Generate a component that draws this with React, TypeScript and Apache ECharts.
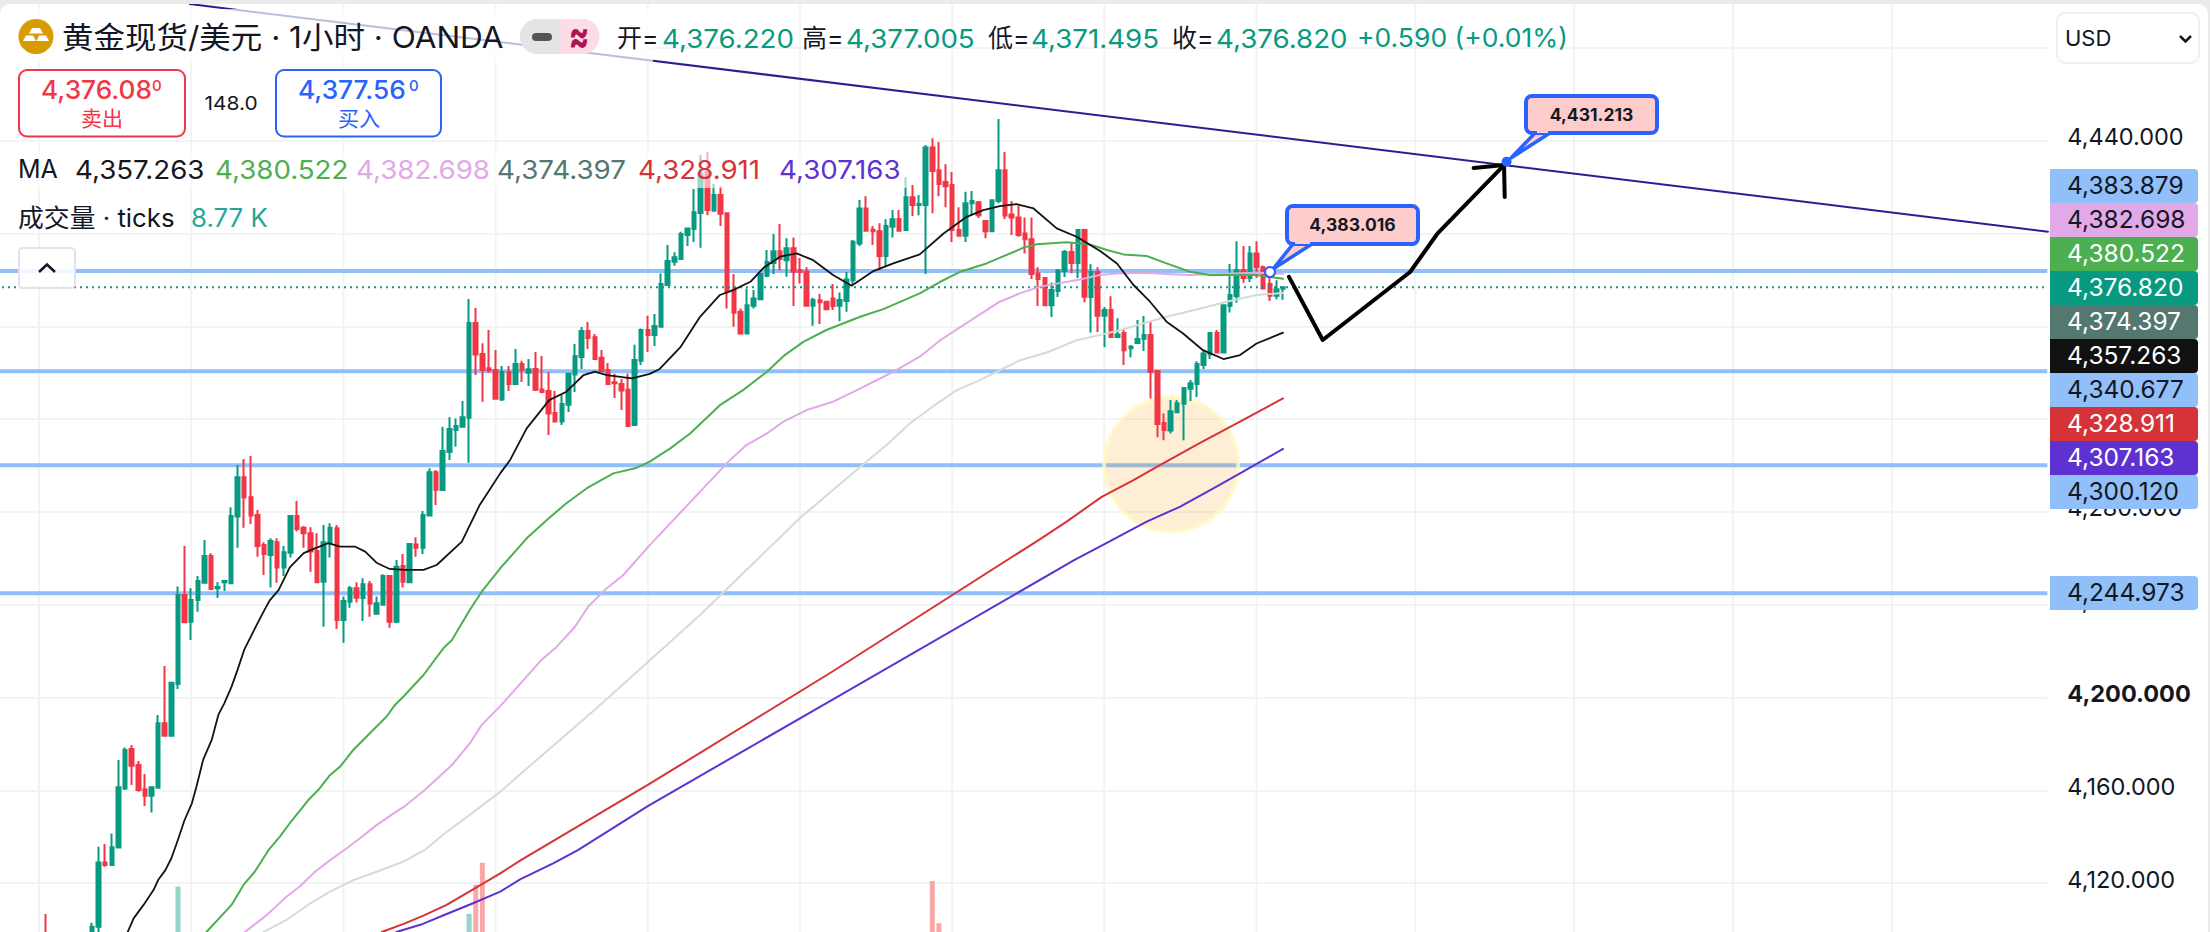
import React, { useEffect, useRef } from "react";
import * as echarts from "echarts";

// ---------- Data (prices) ----------
const axisMin = 4080;
const axisMax = 4520;
const axisStep = 40;
const visibleTickLabels = [4440, 4280, 4240, 4200, 4160, 4120];
const boldTickLabel = 4200;
const barSlots = 310;
const verticalTicks = [6, 29, 52, 75, 98, 121, 144, 167, 190, 214, 238, 262, 286];

// [open, close, low, high]
const earlyBars = [
  [4084, 4086, 4082, 4088], [4086, 4085, 4083, 4088], [4085, 4088, 4084, 4090], [4088, 4086, 4085, 4090],
  [4086, 4089, 4085, 4091], [4089, 4091, 4088, 4093], [4091, 4093, 4090, 4095],
  [4096, 4093, 4091, 4106.7],
  [4093, 4090, 4089, 4095], [4090, 4091, 4088, 4093], [4091, 4089, 4088, 4093], [4089, 4092, 4088, 4094],
  [4092, 4090, 4089, 4094], [4090, 4092, 4089, 4094],
];
const ohlcA = [
  [4092, 4101.2, 4090, 4102.9], [4101.2, 4128.9, 4097, 4135.7], [4128.9, 4127.8, 4127.1, 4136.8], [4127.8, 4135.4, 4127.8, 4141.4],
  [4135.3, 4161.3, 4135.3, 4173.1], [4160.8, 4177.4, 4160.1, 4178.5], [4177.8, 4170.6, 4162.3, 4179.5], [4170.9, 4160.1, 4159.4, 4172.6],
  [4160.4, 4157.7, 4153.2, 4167], [4157.7, 4161.3, 4150.4, 4161.3], [4161.1, 4188.9, 4161.1, 4192.5], [4188.9, 4183.5, 4183.5, 4213.6],
  [4183.5, 4206.4, 4183.5, 4206.8], [4205.8, 4244.2, 4203.7, 4247.8], [4244.2, 4232.4, 4232, 4265.3], [4232.6, 4242, 4224.8, 4247.1],
  [4242, 4250.2, 4237, 4252.4], [4249.5, 4261, 4249.5, 4267.9], [4261, 4246.8, 4246.3, 4262.2], [4247.1, 4247.6, 4243, 4249.8],
  [4249.7, 4250.2, 4245.9, 4250.2], [4249.2, 4278.2, 4249.2, 4282], [4278, 4294.9, 4264.6, 4300.2], [4294.9, 4286.2, 4273.2, 4302.8],
  [4286.3, 4278.4, 4274.8, 4304.1], [4278.7, 4265.3, 4260.7, 4280.8], [4265.7, 4261.9, 4252.8, 4266.9], [4261.4, 4267.5, 4247.4, 4268.6],
  [4266.9, 4256, 4249.5, 4268.6], [4256, 4262.6, 4252.4, 4265.3], [4262.4, 4278.2, 4260.3, 4278.7], [4278.2, 4272.6, 4271.5, 4284.7],
  [4273.2, 4270.8, 4264.6, 4273.9], [4270.8, 4262.9, 4254.2, 4273.4], [4263.2, 4249.7, 4249.2, 4270.8], [4249.9, 4266.9, 4230.5, 4274.4],
  [4266.5, 4273.2, 4260.3, 4275.1], [4272.9, 4233.4, 4229.5, 4274.4], [4233.4, 4241.6, 4223.6, 4243.5], [4241.3, 4247.1, 4238.7, 4248.1],
  [4247.1, 4243, 4240.9, 4249.7], [4242.9, 4248.8, 4233, 4251.4], [4248.8, 4240.5, 4234.8, 4250.2], [4236.1, 4240.6, 4236.1, 4243.5],
  [4240, 4252.4, 4240, 4253.1], [4252.4, 4232.6, 4230.1, 4252.8], [4232.6, 4256.4, 4232, 4259.3], [4256.7, 4249.9, 4247.4, 4261.9],
  [4249.7, 4266.2, 4249.7, 4266.5], [4266, 4264.6, 4260.7, 4269.1], [4264.6, 4278.7, 4261.9, 4280.4], [4278.4, 4297.1, 4278.4, 4298.8],
  [4297.1, 4289.5, 4283, 4298.1],
];
const ohlcB = [
  [4289.4, 4306.3, 4289.2, 4316.7], [4305.8, 4315.7, 4302.4, 4320.8], [4315.3, 4317, 4308.1, 4320.3], [4316.7, 4320.8, 4316.7, 4327.8],
  [4320.6, 4361.4, 4301.2, 4371.8], [4361.4, 4347.8, 4339, 4367.9], [4348.1, 4341.2, 4327.5, 4352.7], [4341.9, 4341, 4340, 4358.4],
  [4341.2, 4328.8, 4328.8, 4349.8], [4328.5, 4340.3, 4327.8, 4342.9], [4340.3, 4335.1, 4332.1, 4342.9], [4335.1, 4343.8, 4335.1, 4350.2],
  [4343.8, 4341.2, 4336, 4345.1], [4340, 4341.5, 4334.3, 4345.9], [4341.6, 4332.6, 4332.1, 4348.9], [4332.8, 4331.7, 4331.1, 4347.2],
  [4332.1, 4322.4, 4313.2, 4340.3], [4322.6, 4319, 4318.8, 4332.1], [4319, 4326.5, 4317.5, 4330.4], [4326.2, 4339.5, 4323.1, 4339.5],
  [4339.2, 4347.2, 4331.7, 4352.4], [4346.8, 4358, 4341.6, 4359.7], [4358, 4355, 4350.2, 4361.9], [4355.3, 4345.9, 4345.9, 4356.7],
  [4346.4, 4340.7, 4340.7, 4349.8], [4341.2, 4335.1, 4335.1, 4344.2], [4335.9, 4335.4, 4329.1, 4339.5], [4335.1, 4332.3, 4323.9, 4337.3],
  [4332.6, 4317, 4316.7, 4339.7], [4317.5, 4345.5, 4317.5, 4352], [4345.1, 4358.4, 4343.3, 4359.1], [4358.4, 4356.3, 4348.9, 4364.5],
];
const ohlcC = [
  [4356.2, 4360.1, 4351.5, 4365.3], [4359.8, 4378.2, 4359.8, 4382.8], [4377.8, 4388.1, 4377.8, 4395], [4387.8, 4389.8, 4386.1, 4391.9],
  [4389, 4399.8, 4389, 4400.8], [4399.3, 4402.2, 4394.6, 4402.6], [4401.9, 4409.2, 4396.3, 4419.2], [4408.8, 4425.9, 4393.9, 4433.8],
  [4426.6, 4410.1, 4407.9, 4435], [4409.8, 4416.6, 4409.8, 4421.3], [4416.6, 4408.5, 4403.2, 4420.4], [4408.7, 4374.9, 4367.7, 4408.7],
  [4375.6, 4365.8, 4359.8, 4382.5], [4366.3, 4356.9, 4356.9, 4367.7], [4356.9, 4369.1, 4356.9, 4376.3], [4368.9, 4372, 4367.7, 4375.6],
  [4371.7, 4382.5, 4371.3, 4382.5], [4381.8, 4387.7, 4381.1, 4392.9], [4387.3, 4392.4, 4382.5, 4399.8], [4392.4, 4389, 4384.2, 4404.1],
  [4388.5, 4393.6, 4381.4, 4397.9], [4393.6, 4383.5, 4368.7, 4398.3], [4384.2, 4383.4, 4378.5, 4389.4], [4383.5, 4368.9, 4368.9, 4385.5],
  [4368.9, 4371.3, 4360.2, 4372.3], [4371.2, 4370.4, 4361, 4373.9], [4370.6, 4367.4, 4367, 4370.6], [4372, 4368.7, 4367, 4378.2],
  [4368.9, 4371.3, 4362.2, 4374.6], [4370.9, 4380.2, 4366.3, 4383.4], [4379.8, 4396.4, 4377.8, 4397.2], [4395.7, 4410.8, 4394.6, 4414.4],
  [4410.8, 4401.2, 4400.8, 4416.1], [4401.6, 4401, 4395, 4403.2], [4401, 4390.3, 4384.2, 4404.4], [4390.3, 4403.2, 4385.7, 4406.1],
  [4402.9, 4406.1, 4398.3, 4410.1], [4406.2, 4401.2, 4401.2, 4410.1], [4401.5, 4415.6, 4401.5, 4424.2], [4415.6, 4412.3, 4407.5, 4420.9],
  [4412.3, 4412.7, 4407.9, 4416.6], [4412.3, 4437.1, 4382.5, 4438.1], [4437.1, 4426.9, 4408.7, 4441.1], [4427.3, 4421.3, 4416.1, 4439.4],
  [4422.2, 4420.4, 4411.3, 4429.9], [4420.9, 4401.5, 4396.3, 4426.5], [4401.5, 4399, 4399, 4411.3], [4399, 4413, 4396.3, 4418],
  [4413, 4414, 4407.9, 4418.3], [4413.5, 4407.9, 4406.7, 4414], [4405.4, 4401, 4398, 4405.4], [4401, 4414.3, 4401, 4414.3],
  [4414, 4427.3, 4413, 4449.3], [4427.3, 4407.8, 4406.2, 4435.1], [4408.2, 4406.9, 4399.3, 4414], [4406.9, 4399.3, 4398.6, 4411.8],
  [4400, 4397.5, 4391.4, 4406.9], [4397.5, 4382.5, 4380.4, 4406.9], [4382.8, 4380.4, 4368.7, 4385.5], [4380.8, 4369.1, 4369.1, 4381.1],
  [4369.1, 4375.6, 4364, 4378.9], [4375.2, 4384.2, 4372.6, 4384.2], [4383.8, 4392, 4381.2, 4392.9], [4392, 4387.3, 4382.9, 4396.3],
  [4387.3, 4401.5, 4380.8, 4401.5], [4401.5, 4372.7, 4370.4, 4401.9], [4372.6, 4383.4, 4357.2, 4386.7], [4383.4, 4364.5, 4357.5, 4385.5],
];
const ohlcD = [
  [4364.5, 4367, 4351, 4368.3], [4367, 4355.4, 4355.4, 4373], [4355.4, 4356.5, 4355.4, 4363.5], [4357.1, 4349.7, 4343.3, 4358.4],
  [4350.5, 4351.2, 4346.7, 4351.9], [4352.8, 4354.5, 4352.8, 4362.7], [4354.6, 4356.2, 4349.3, 4364.4], [4356.2, 4340.4, 4328.9, 4361.8],
  [4340.7, 4317.9, 4312.2, 4340.7], [4318.3, 4315.3, 4310.9, 4322.4], [4315.1, 4323.4, 4313.8, 4328.2], [4323, 4326.8, 4322.6, 4328.2],
  [4326.6, 4333.4, 4310.9, 4333.4], [4333.1, 4335.5, 4327.8, 4336.8], [4335.1, 4343.7, 4329.5, 4344.9], [4343.3, 4348.3, 4341.6, 4349.3],
  [4348, 4357.1, 4345.9, 4357.5], [4357.1, 4348.7, 4348.3, 4358.4], [4348.7, 4369.1, 4348.7, 4369.1], [4368.7, 4373.5, 4366, 4386.8],
  [4373, 4384.2, 4370.2, 4396.7], [4384.2, 4380.8, 4378.8, 4394.6], [4380.8, 4391.4, 4379.1, 4394.6], [4391.4, 4385.5, 4380.8, 4396.7],
  [4385.5, 4376.3, 4376.3, 4386.2], [4378.2, 4373.2, 4370.9, 4382.8], [4373.2, 4376, 4371.7, 4379.9], [4376.22, 4376.82, 4371.495, 4377.005],
];

// [bar index, volume] for the bars that rise into view
const volumeBars = [
  [27, 21000, "up"], [71, 14600, "up"], [72, 21400, "down"], [73, 26600, "down"], [141, 22300, "down"], [142, 12400, "down"],
];

// [bar index, price] read along each moving average
const ma1 = [
  [19.4, 4098.9], [20.3, 4104.8], [21.8, 4110.6], [23.3, 4117], [24, 4121.3], [25.1, 4125.6], [26, 4130.7], [26.8, 4137.1], [28, 4147.2], [29.1, 4154.4],
  [29.8, 4161.6], [30.8, 4173.1], [32.1, 4181.7], [33.1, 4192.5], [34, 4197.5], [35.1, 4204.7], [36, 4211.9], [37, 4220.5], [38.9, 4231.3], [40.2, 4238.4],
  [40.9, 4242], [42.2, 4246.3], [43.9, 4256.1], [46, 4262.2], [47.7, 4264.3], [49.7, 4266.5], [51.5, 4265], [53.8, 4265], [55.3, 4262.9], [57, 4258.1],
  [59, 4255.4], [61.3, 4255], [64.1, 4255], [66.1, 4257.1], [69.9, 4267.2], [72.6, 4283], [74.1, 4289.5], [75.7, 4296.6], [77.2, 4302.4], [79.7, 4316],
  [83.1, 4328.2], [85.7, 4331.8], [88.3, 4339], [90, 4340.5], [91.8, 4339], [95.6, 4337.6], [98.3, 4339.5], [99.8, 4341.6], [102.9, 4350.9], [105.9, 4364.1],
  [108.9, 4373.5], [110.9, 4375.6], [113.5, 4379.2], [115.5, 4385.2], [118, 4390], [120.5, 4391.4], [123, 4388.5], [126, 4382.1], [128.8, 4377.5], [132.1, 4383.8],
  [135.1, 4387.1], [139.1, 4391], [142.7, 4400], [146.2, 4407.2], [148.7, 4410.1], [151.2, 4411.8], [153.7, 4412.7], [156.3, 4410.8], [159.8, 4402.2], [162.8, 4398.6],
  [166.3, 4392.6], [168.9, 4387.1], [171.4, 4377.8], [173.9, 4370.6], [176.4, 4362], [178.9, 4356.9], [181.9, 4349.7], [185, 4345.9], [187.5, 4347.6], [190, 4352.6], [194, 4357.263],
];
const ma2 = [
  [31.3, 4098.9], [35.1, 4110.6], [36.9, 4119.2], [38.6, 4124.9], [40.7, 4134.3], [42.4, 4140], [43.9, 4145.8], [46.7, 4155.8], [48.2, 4160.1], [50, 4166.6],
  [51.5, 4170.2], [53.5, 4177.4], [56, 4184.6], [58.5, 4191.7], [59.8, 4196.8], [61.3, 4201.1], [64.1, 4209.7], [67.1, 4221.2], [68.4, 4224.8], [71.1, 4237.7],
  [72.9, 4245.6], [75.7, 4255.7], [79.7, 4268.6], [83, 4277.2], [85.7, 4283.7], [88.8, 4290.2], [92.8, 4296.6], [96.1, 4298.8], [98.3, 4301.7], [101.4, 4307.4],
  [104.4, 4313.8], [108.9, 4326], [112.4, 4332.5], [116, 4340.4], [118.7, 4347.6], [121.5, 4353.3], [125, 4358.4], [130.1, 4364.1], [133.6, 4367.4], [139.1, 4374.2],
  [142.2, 4379.2], [145.2, 4383.5], [149.2, 4387.1], [154.8, 4393.9], [156.8, 4395.4], [161.3, 4396.2], [164.8, 4395.3], [167.4, 4392.9], [169.9, 4391], [173.4, 4390.3],
  [176.4, 4387.1], [179.9, 4383.5], [183, 4382.1], [186.5, 4382.1], [190, 4382.1], [194, 4380.522],
];
const ma3 = [
  [37.1, 4098.9], [40.4, 4106.2], [43.4, 4114.1], [45.4, 4118.5], [47.7, 4124.9], [50, 4129.9], [52.5, 4135], [54.5, 4139.3], [57, 4145], [60, 4150.8],
  [61.3, 4153.2], [64.3, 4160.1], [68.4, 4170.9], [71.1, 4180.2], [72.9, 4188.2], [75.7, 4196.3], [82, 4216.4], [84, 4221.2], [87, 4230.5], [89, 4239.2],
  [91.5, 4246.3], [94.3, 4252.8], [98.3, 4265.7], [110.4, 4302.3], [112.9, 4308.8], [116, 4313.8], [118.5, 4318.9], [122, 4323.9], [126, 4327.5], [129.6, 4332.5],
  [132.1, 4336.1], [135.1, 4340.4], [139.1, 4346.9], [142.2, 4354], [145.7, 4360.5], [149.2, 4367], [151.2, 4370.6], [154.2, 4374.2], [157.3, 4377.1], [163.3, 4380.2],
  [166.3, 4382.1], [168.9, 4382.8], [172.9, 4383.1], [176.4, 4382.5], [179.9, 4382.1], [183.5, 4382.4], [186.5, 4382.8], [190, 4383.1], [194, 4382.698],
];
const ma4 = [
  [39.9, 4098.9], [43.4, 4104.1], [47, 4111.3], [50, 4116.3], [53.5, 4121.3], [57, 4124.9], [61, 4129.2], [64.3, 4134.3], [67.3, 4141.4], [71.1, 4149.4],
  [75.7, 4159.4], [90.8, 4196.8], [105.9, 4235.6], [121, 4277.4], [131.3, 4302.3], [134.1, 4308.8], [137.6, 4318.1], [141.7, 4326.7], [144.7, 4332.5], [148.2, 4336.8],
  [151.2, 4341.1], [154.3, 4345.4], [158.3, 4348.7], [162.8, 4354], [166.3, 4356.2], [169.4, 4358.4], [176.4, 4364.1], [181.5, 4367.7], [185.5, 4370.6], [190, 4373.5], [194, 4374.397],
];
const ma5 = [
  [57.8, 4098.9], [61.1, 4102.4], [64.1, 4106], [67.6, 4110.6], [71.6, 4117.3], [75.7, 4124.2], [78.7, 4129.7], [98, 4162.3], [125.8, 4211], [157.3, 4268.3],
  [161.3, 4275.8], [166.6, 4286.5], [171.4, 4293.7], [175.4, 4300.2], [181.4, 4309.6], [187.5, 4318.9], [194, 4328.911],
];
const ma6 = [
  [60, 4098.9], [64, 4102.4], [67.6, 4106.7], [71.6, 4111.3], [75.7, 4116.3], [78.7, 4121.6], [83.7, 4128.5], [87.5, 4134.3], [98, 4153.2], [125.8, 4198.9],
  [162.5, 4259.3], [167.3, 4266.5], [173.4, 4275.8], [178.4, 4282.2], [183, 4289.4], [187.5, 4296.6], [194, 4307.163],
];

const priceLevels = [4383.879, 4340.677, 4300.12, 4244.973];
const lastPrice = 4376.82;
const trendLine = [[28.8, 4498.9], [309.6, 4400.8]];
const circleCentre = [177.1, 4300.4];
const sketchPath = [[194.9, 4381.3], [200, 4354.1], [213.2, 4383.4], [217.4, 4400.2], [227.4, 4429.5]];
const sketchArrowHead = [[222.8, 4428.2], [227.4, 4429.5], [227.5, 4415.7]];

const axisPills = [
  { text: "4,383.879", fill: "#90bff9", ink: "#131722" },
  { text: "4,382.698", fill: "#e1a9e8", ink: "#131722" },
  { text: "4,380.522", fill: "#4caf50", ink: "#ffffff" },
  { text: "4,376.820", fill: "#089981", ink: "#ffffff" },
  { text: "4,374.397", fill: "#54776f", ink: "#ffffff" },
  { text: "4,357.263", fill: "#111111", ink: "#ffffff" },
  { text: "4,340.677", fill: "#90bff9", ink: "#131722" },
  { text: "4,328.911", fill: "#d63338", ink: "#ffffff" },
  { text: "4,307.163", fill: "#5e31d1", ink: "#ffffff" },
  { text: "4,300.120", fill: "#90bff9", ink: "#131722" },
];
const loneAxisPill = { text: "4,244.973", fill: "#90bff9", ink: "#131722" };

const maLegend = [
  { text: "4,357.263", x: 75, color: "#131722" },
  { text: "4,380.522", x: 215, color: "#4caf50" },
  { text: "4,382.698", x: 356, color: "#e1a9e8" },
  { text: "4,374.397", x: 497, color: "#54776f" },
  { text: "4,328.911", x: 638, color: "#d63338" },
  { text: "4,307.163", x: 779, color: "#5e31d1" },
];
const ohlcLegend = [
  { label: "开=", value: "4,376.220", lx: 617, vx: 662 },
  { label: "高=", value: "4,377.005", lx: 802, vx: 846 },
  { label: "低=", value: "4,371.495", lx: 988, vx: 1031 },
  { label: "收=", value: "4,376.820", lx: 1172, vx: 1216 },
];

const FONT = 'Inter, "Noto Sans CJK SC", sans-serif';
const TEAL = "#089981";
const RED = "#f23645";
const BLUE = "#2962ff";

const txt = (text: string, x: number, y: number, size: number, fill: string, extra: any = {}) => ({
  type: "text",
  z: 60,
  silent: true,
  x,
  y,
  scaleX: extra.stretch || 1,
  scaleY: extra.stretchY || 1,
  style: {
    text, fill,
    fontSize: size,
    fontFamily: FONT,
    fontWeight: extra.weight || 400,
    textAlign: extra.align || "left",
    textVerticalAlign: "middle",
  },
});

const callout = (x: number, y: number, w: number, h: number, tail: number[][], label: string) => [
  { type: "polygon", z: 52, silent: true, shape: { points: tail }, style: { fill: "#ffcccc", stroke: BLUE, lineWidth: 3.5, lineJoin: "round" } },
  { type: "rect", z: 53, silent: true, shape: { x, y, width: w, height: h, r: 6 }, style: { fill: "#ffcccc", stroke: BLUE, lineWidth: 4 } },
  { type: "rect", z: 54, silent: true, shape: { x: tail[0][0] + 2, y: y + h - 3, width: tail[1][0] - tail[0][0] - 4, height: 3 }, style: { fill: "#ffcccc" } },
  txt(label, x + w / 2, y + h / 2, 17, "#131722", { weight: 700, align: "center", stretch: 1.03 }),
];

function buildGraphics() {
  const pillX = 2050;
  const pillW = 148;
  const pillH = 34;
  const pill = (p: any, top: number) => [
    { type: "rect", z: 55, silent: true, shape: { x: pillX, y: top, width: pillW, height: pillH, r: [0, 4, 4, 0] }, style: { fill: p.fill } },
    txt(p.text, 2067, top + pillH / 2, 24, p.ink, { stretch: 1.02 }),
  ];
  const els: any[] = [
    // translucent legend plates
    { type: "rect", z: 40, silent: true, shape: { x: 0, y: 9, width: 653, height: 53 }, style: { fill: "rgba(255,255,255,0.7)" } },
    { type: "rect", z: 40, silent: true, shape: { x: 0, y: 150, width: 909, height: 38 }, style: { fill: "rgba(255,255,255,0.6)" } },
    // symbol logo
    { type: "circle", z: 60, silent: true, shape: { cx: 36, cy: 36.5, r: 17.5 }, style: { fill: "#d69c00" } },
    { type: "polygon", z: 61, silent: true, shape: { points: [[32, 28], [40, 28], [43, 33.5], [29, 33.5]] }, style: { fill: "#fff" } },
    { type: "polygon", z: 61, silent: true, shape: { points: [[26, 35.5], [33, 35.5], [36, 41], [23, 41]] }, style: { fill: "#fff" } },
    { type: "polygon", z: 61, silent: true, shape: { points: [[39, 35.5], [46, 35.5], [49, 41], [36.5, 41]] }, style: { fill: "#fff" } },
    txt("黄金现货/美元 · 1小时 · OANDA", 62, 37, 30, "#131722", { stretch: 1.05 }),
    // status badge
    { type: "rect", z: 60, silent: true, shape: { x: 520, y: 19, width: 50, height: 35, r: [17, 0, 0, 17] }, style: { fill: "#e4e4e6" } },
    { type: "rect", z: 60, silent: true, shape: { x: 560, y: 19, width: 39.5, height: 35, r: [0, 17, 17, 0] }, style: { fill: "#fcdde6" } },
    { type: "rect", z: 61, silent: true, shape: { x: 532, y: 33, width: 20, height: 8, r: 4 }, style: { fill: "#555558" } },
    txt("≈", 579, 36, 30, "#b3124f", { weight: 800, align: "center", stretchY: 1.4 }),
    txt("+0.590 (+0.01%)", 1357, 38, 26, TEAL, { stretch: 1.02 }),
    // bid / ask boxes
    { type: "rect", z: 60, silent: true, shape: { x: 19, y: 70, width: 166, height: 66.5, r: 8 }, style: { fill: "rgba(255,255,255,0.9)", stroke: RED, lineWidth: 2 } },
    txt("4,376.08", 41, 90, 25, RED, { weight: 500, stretch: 1.05 }),
    txt("0", 152, 85, 15, RED, { weight: 500 }),
    txt("卖出", 102, 118, 21, RED, { align: "center" }),
    txt("148.0", 231, 103, 19, "#131722", { align: "center", stretch: 1.1 }),
    { type: "rect", z: 60, silent: true, shape: { x: 276, y: 70, width: 165, height: 66.5, r: 8 }, style: { fill: "rgba(255,255,255,0.9)", stroke: BLUE, lineWidth: 2 } },
    txt("4,377.56", 298, 90, 25, BLUE, { weight: 500, stretch: 1.05 }),
    txt("0", 409, 85, 15, BLUE, { weight: 500 }),
    txt("买入", 359, 118, 21, BLUE, { align: "center" }),
    // legends
    txt("MA", 18, 169, 25, "#131722"),
    txt("成交量 · ticks", 18, 218, 25, "#131722", { stretch: 1.033 }),
    txt("8.77 K", 191, 218, 25, "#26a69a", { stretch: 1.033 }),
    // collapse button
    { type: "rect", z: 60, silent: true, shape: { x: 19, y: 248, width: 56, height: 40, r: 4 }, style: { fill: "rgba(255,255,255,0.88)", stroke: "#e0e3eb", lineWidth: 2 } },
    { type: "polyline", z: 61, silent: true, shape: { points: [[39, 272], [47, 264.5], [55, 272]] }, style: { stroke: "#131722", lineWidth: 2.5, fill: "none" } },
    // currency selector
    { type: "rect", z: 60, silent: true, shape: { x: 2057, y: 13, width: 142, height: 50, r: 8 }, style: { fill: "#fff", stroke: "#eeeff1", lineWidth: 2 } },
    txt("USD", 2065, 38, 22, "#131722"),
    { type: "polyline", z: 61, silent: true, shape: { points: [[2180, 36], [2185.5, 41.5], [2191, 36]] }, style: { stroke: "#131722", lineWidth: 2.5, fill: "none" } },
    // price notes
    ...callout(1287, 206, 131, 38, [[1293, 244], [1312, 244], [1273, 269]], "4,383.016"),
    ...callout(1526, 96, 131, 37, [[1535, 133], [1550, 133], [1511, 158]], "4,431.213"),
    { type: "circle", z: 56, silent: true, shape: { cx: 1270, cy: 272, r: 5 }, style: { fill: "#ffffff", stroke: BLUE, lineWidth: 2 } },
    { type: "circle", z: 56, silent: true, shape: { cx: 1506.6, cy: 161.7, r: 5 }, style: { fill: BLUE } },
    ...axisPills.flatMap((p, i) => pill(p, 169 + i * pillH)),
    ...pill(loneAxisPill, 576),
    // page frame around the rounded panel
    { type: "rect", z: 100, silent: true, shape: { x: -10, y: -6, width: 2228, height: 960, r: 20 }, style: { fill: "none", stroke: "#ebebeb", lineWidth: 20 } },
  ];
  for (const row of ohlcLegend) {
    els.push(txt(row.label, row.lx, 38, 25, "#131722"));
    els.push(txt(row.value, row.vx, 38, 26, TEAL, { stretch: 1.065 }));
  }
  for (const item of maLegend) els.push(txt(item.text, item.x, 169, 26, item.color, { stretch: 1.065 }));
  return els;
}

const overlay = (data: any[], color: string, width: number, z: number, extra: any = {}) => ({
  type: "line",
  xAxisIndex: 1,
  yAxisIndex: 0,
  data,
  z,
  silent: true,
  symbol: "none",
  showSymbol: false,
  smooth: false,
  animation: false,
  lineStyle: { color, width, cap: "round", join: "round", ...extra },
  emphasis: { disabled: true },
});

export default function App() {
  const ref = useRef<HTMLDivElement>(null);
  useEffect(() => {
    const chart = echarts.init(ref.current!, undefined, { renderer: "svg" });
    const candles = [...earlyBars, ...ohlcA, ...ohlcB, ...ohlcC, ...ohlcD];
    const categories = Array.from({ length: barSlots }, (_, i) => String(i));
    const volumes: any[] = categories.map(() => "-");
    volumeBars.forEach(([i, v, dir]) => {
      volumes[i as number] = { value: v, itemStyle: { color: dir === "up" ? "#94d4c9" : "#f7a9a9" } };
    });
    const xEnd = barSlots - 0.5;
    chart.setOption({
      animation: false,
      backgroundColor: "#ffffff",
      grid: { left: -4, top: -44.9, width: 2051.3, height: 1020.8, containLabel: false, outerBoundsMode: "none" },
      tooltip: { show: false },
      legend: { show: false },
      xAxis: [
        { type: "category", data: categories, show: false, boundaryGap: true },
        { type: "value", min: -0.5, max: xEnd, show: false, splitLine: { show: false } },
      ],
      yAxis: [
        {
          type: "value",
          position: "right",
          min: axisMin,
          max: axisMax,
          interval: axisStep,
          axisLine: { show: false },
          axisTick: { show: false },
          splitLine: { show: true, lineStyle: { color: "#f2f3f3", width: 2 } },
          axisLabel: {
            margin: 20,
            color: "#131722",
            fontFamily: FONT,
            fontSize: 23.5,
            padding: [0, 0, 8, 0],
            rich: { bold: { fontFamily: FONT, fontSize: 23.5, fontWeight: 700, color: "#131722" } },
            formatter: (v: number) => {
              if (!visibleTickLabels.includes(v)) return "";
              const s = v.toLocaleString("en-US") + ".000";
              return v === boldTickLabel ? `{bold|${s}}` : s;
            },
          },
        },
        { type: "value", min: 0, max: 240000, show: false, splitLine: { show: false } },
      ],
      graphic: { elements: buildGraphics() },
      series: [
        ...verticalTicks.map((k) => overlay([[k, axisMin], [k, axisMax]], "#f2f3f3", 2, 0)),
        ...priceLevels.map((p) => overlay([[-0.5, p], [xEnd, p]], "#90bff9", 4, 1, { cap: "butt" })),
        {
          type: "scatter",
          xAxisIndex: 1,
          yAxisIndex: 0,
          z: 2,
          silent: true,
          symbol: "circle",
          symbolSize: 134,
          data: [circleCentre],
          itemStyle: { color: "rgba(255,152,0,0.2)", borderColor: "#fff9c4", borderWidth: 4 },
        },
        {
          type: "bar",
          xAxisIndex: 0,
          yAxisIndex: 1,
          z: 2,
          silent: true,
          barWidth: 5,
          data: volumes,
        },
        {
          type: "candlestick",
          xAxisIndex: 0,
          yAxisIndex: 0,
          z: 3,
          silent: true,
          barWidth: 4,
          data: candles,
          itemStyle: { color: TEAL, color0: RED, borderColor: TEAL, borderColor0: RED, borderWidth: 2 },
        },
        overlay([[-0.5, lastPrice], [xEnd, lastPrice]], TEAL, 2, 4, { type: [2, 4], cap: "butt" }),
        overlay(ma4, "#d2ddd7", 2, 4),
        overlay(ma3, "#e1a9e8", 2, 4),
        overlay(ma2, "#4caf50", 2, 4),
        overlay(ma5, "#d63338", 2, 5),
        overlay(ma6, "#5e31d1", 2, 5),
        overlay(ma1, "#131313", 1.8, 5),
        overlay(trendLine, "#311b92", 2, 6),
        overlay(sketchPath, "#000000", 4, 7),
        overlay(sketchArrowHead, "#000000", 4, 7),
      ],
    });
    return () => chart.dispose();
  }, []);
  return <div ref={ref} style={{ position: "absolute", left: 0, top: 0, width: 2210, height: 932 }} />;
}
